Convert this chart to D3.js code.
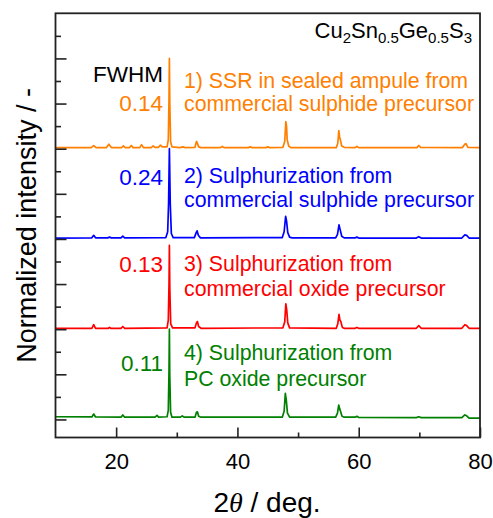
<!DOCTYPE html>
<html>
<head>
<meta charset="utf-8">
<script src="https://cdn.jsdelivr.net/npm/d3@7"></script>
<style>
  body { margin: 0; background: #fff; }
  text { font-family: "Liberation Sans", Arial, sans-serif; }
</style>
</head>
<body>
<svg id="chart" width="493" height="518"></svg>
<script>
// XRD patterns of Cu2Sn0.5Ge0.5S3, each as [2theta (deg), normalized intensity] pairs
const patternSSR = [
  [10, 0.012], [15.9, 0.012], [16.3, 0.035], [16.7, 0.012], [18.4, 0.012], [18.8, 0.05], [19.2, 0.012],
  [20.9, 0.012], [21.2, 0.03], [21.5, 0.012], [22.2, 0.012], [22.5, 0.035], [22.8, 0.012],
  [23.9, 0.012], [24.2, 0.045], [24.5, 0.012], [25.8, 0.012], [26.1, 0.03], [26.4, 0.015],
  [27.0, 0.015], [27.3, 0.04], [27.6, 0.02], [28.4, 0.02], [28.6, 0.1], [28.72, 0.55], [28.78, 1.0],
  [28.85, 0.5], [28.98, 0.08], [29.2, 0.02], [30.5, 0.012], [31.0, 0.02], [31.4, 0.012],
  [33.0, 0.015], [33.25, 0.08], [33.4, 0.06], [33.6, 0.02], [34.0, 0.012], [37.2, 0.012], [37.5, 0.025],
  [37.8, 0.012], [41.8, 0.012], [42.1, 0.02], [42.4, 0.012], [44.7, 0.012], [45.0, 0.02], [45.3, 0.012],
  [47.5, 0.015], [47.8, 0.08], [47.98, 0.30], [48.1, 0.25], [48.2, 0.1], [48.45, 0.03], [48.8, 0.012],
  [56.3, 0.012], [56.55, 0.06], [56.72, 0.2], [56.85, 0.13], [57.0, 0.09], [57.2, 0.03], [57.6, 0.015],
  [59.4, 0.012], [59.7, 0.025], [60.0, 0.012], [69.6, 0.012], [69.9, 0.035], [70.2, 0.015],
  [77.1, 0.012], [77.5, 0.05], [77.7, 0.055], [78.0, 0.015], [80, 0.012]
];
const patternSulphideSulph = [
  [10, 0.01], [16.0, 0.012], [16.3, 0.04], [16.6, 0.012], [18.6, 0.012], [18.9, 0.02], [19.2, 0.012],
  [20.8, 0.012], [21.1, 0.03], [21.4, 0.012], [28.2, 0.015], [28.5, 0.08], [28.65, 0.4], [28.78, 1.0],
  [28.92, 0.4], [29.1, 0.06], [29.4, 0.015], [32.9, 0.015], [33.2, 0.07], [33.35, 0.09], [33.55, 0.04],
  [33.9, 0.012], [47.4, 0.015], [47.7, 0.08], [47.95, 0.25], [48.1, 0.2], [48.3, 0.07], [48.6, 0.02],
  [49.0, 0.012], [56.2, 0.012], [56.5, 0.05], [56.75, 0.155], [56.95, 0.1], [57.2, 0.03], [57.6, 0.012],
  [59.4, 0.012], [59.7, 0.02], [60.0, 0.01], [69.5, 0.01], [69.9, 0.025], [70.3, 0.01],
  [77.0, 0.01], [77.5, 0.045], [77.8, 0.04], [78.2, 0.01], [80, 0.01]
];
const patternOxideSulph = [
  [10, 0.01], [16.0, 0.01], [16.3, 0.05], [16.6, 0.01], [18.7, 0.01], [18.9, 0.02], [19.1, 0.01],
  [20.8, 0.01], [21.1, 0.03], [21.4, 0.01], [28.4, 0.015], [28.6, 0.1], [28.72, 0.5], [28.78, 0.93],
  [28.85, 0.45], [29.0, 0.06], [29.3, 0.015], [33.0, 0.015], [33.25, 0.07], [33.4, 0.085], [33.6, 0.03],
  [34.0, 0.01], [47.5, 0.015], [47.8, 0.08], [47.98, 0.28], [48.12, 0.22], [48.3, 0.07], [48.6, 0.015],
  [56.3, 0.01], [56.55, 0.06], [56.75, 0.165], [56.9, 0.1], [57.05, 0.085], [57.3, 0.02], [57.6, 0.01],
  [59.4, 0.01], [59.7, 0.02], [60.0, 0.01], [69.5, 0.01], [69.9, 0.04], [70.3, 0.01],
  [77.0, 0.01], [77.5, 0.05], [77.8, 0.04], [78.2, 0.01], [80, 0.01]
];
const patternPCOxide = [
  [10, 0.03], [16.0, 0.028], [16.3, 0.06], [16.6, 0.028], [20.8, 0.025], [21.1, 0.05], [21.4, 0.025],
  [26.4, 0.025], [26.75, 0.045], [27.0, 0.025], [28.4, 0.03], [28.6, 0.1], [28.72, 0.55], [28.78, 1.0],
  [28.84, 0.5], [28.98, 0.08], [29.2, 0.025], [30.6, 0.025], [30.9, 0.04], [31.2, 0.025],
  [33.0, 0.025], [33.25, 0.08], [33.4, 0.085], [33.6, 0.035], [34.0, 0.025], [47.4, 0.025], [47.7, 0.09],
  [47.9, 0.29], [48.05, 0.22], [48.25, 0.07], [48.6, 0.025], [56.2, 0.025], [56.5, 0.07], [56.7, 0.16],
  [56.85, 0.12], [57.0, 0.09], [57.25, 0.035], [57.6, 0.025], [59.4, 0.025], [59.7, 0.035], [60.0, 0.022],
  [69.5, 0.02], [69.9, 0.03], [70.3, 0.02], [77.0, 0.02], [77.5, 0.05], [77.8, 0.04], [78.2, 0.015], [80, 0.015]
];

const patterns = [patternSSR, patternSulphideSulph, patternOxideSulph, patternPCOxide];
const verticalOffsets = [3, 2, 1, 0];
const fwhmValues = [0.14, 0.24, 0.13, 0.11];
const sampleLabels = [
  ["1) SSR in sealed ampule from", "commercial sulphide precursor"],
  ["2) Sulphurization from", "commercial sulphide precursor"],
  ["3) Sulphurization from", "commercial oxide precursor"],
  ["4) Sulphurization from", "PC oxide precursor"]
];
const xMajorTicks = [20, 40, 60, 80];
const xMinorTicks = [30, 50, 70];
const yMajorTicks = [0, 0.5, 1, 1.5, 2, 2.5, 3, 3.5, 4];
const yMinorTicks = [0.25, 0.75, 1.25, 1.75, 2.25, 2.75, 3.25, 3.75, 4.25];

// styling / layout
const colors = ["#ff8000", "#0000ff", "#ff0000", "#008000"];
const frame = { left: 55.5, right: 480, top: 13.3, bottom: 437.5 };
// text baselines measured upward (px) from each pattern's zero line
const labelLine1Rise = [61, 56, 58, 59];
const labelLine2Rise = [38, 32, 33, 33];
const valueRise = [38, 54, 57.5, 48];

const svg = d3.select("#chart");
const x = d3.scaleLinear().domain([10, 80]).range([frame.left, frame.right]);
const y = d3.scaleLinear().domain([-0.2, 4.5]).range([frame.bottom, frame.top]);

// traces
const line = d3.line().x(d => x(d[0])).y(d => y(d[1]));
patterns.forEach((p, i) => {
  svg.append("path")
    .datum(p.map(d => [d[0], d[1] + verticalOffsets[i]]))
    .attr("d", line)
    .attr("fill", "none")
    .attr("stroke", colors[i])
    .attr("stroke-width", 1.7)
    .attr("stroke-linejoin", "round");
});

// axes with inward ticks
const axisColor = "#222";
const gx = svg.append("g").attr("transform", `translate(0,${frame.bottom})`)
  .call(d3.axisBottom(x).tickValues(xMajorTicks).tickSize(-10).tickPadding(16).tickFormat(d3.format("d")));
const gxm = svg.append("g").attr("transform", `translate(0,${frame.bottom})`)
  .call(d3.axisBottom(x).tickValues(xMinorTicks).tickSize(-5).tickFormat(""));
const gy = svg.append("g").attr("transform", `translate(${frame.left},0)`)
  .call(d3.axisLeft(y).tickValues(yMajorTicks).tickSize(-11).tickFormat(""));
const gym = svg.append("g").attr("transform", `translate(${frame.left},0)`)
  .call(d3.axisLeft(y).tickValues(yMinorTicks).tickSize(-5.5).tickFormat(""));
[gx, gxm, gy, gym].forEach(g => {
  g.select(".domain").remove();
  g.selectAll(".tick line").attr("stroke", axisColor).attr("stroke-width", 1.6);
});
gx.selectAll(".tick text").attr("font-size", 22).attr("fill", "#000")
  .attr("font-family", "'Liberation Sans', Arial, sans-serif");

svg.append("rect")
  .attr("x", frame.left).attr("y", frame.top)
  .attr("width", frame.right - frame.left).attr("height", frame.bottom - frame.top)
  .attr("fill", "none").attr("stroke", axisColor).attr("stroke-width", 1.8);

// axis titles
const xt = svg.append("text").attr("x", 267).attr("y", 512).attr("text-anchor", "middle").attr("font-size", 28);
xt.append("tspan").text("2");
xt.append("tspan").attr("font-family", "'Liberation Serif', serif").attr("font-style", "italic").text("θ");
xt.append("tspan").text(" / deg.");

svg.append("text")
  .attr("transform", `translate(36,${(frame.top + frame.bottom) / 2}) rotate(-90)`)
  .attr("text-anchor", "middle").attr("font-size", 27)
  .text("Normalized intensity / -");

// compound formula
const ft = svg.append("text").attr("x", 472).attr("y", 38).attr("text-anchor", "end").attr("font-size", 22);
[["Cu", false], ["2", true], ["Sn", false], ["0.5", true], ["Ge", false], ["0.5", true], ["S", false], ["3", true]]
  .forEach(([t, sub], k, arr) => {
    const prevSub = k > 0 && arr[k - 1][1];
    const ts = ft.append("tspan").text(t);
    if (sub) ts.attr("font-size", 15).attr("dy", 5);
    else if (prevSub) ts.attr("dy", -5);
  });

// FWHM header and per-pattern annotations
const valueX = 163, labelX = 184;
svg.append("text").attr("x", valueX).attr("y", y(3) - 67).attr("text-anchor", "end")
  .attr("font-size", 22.5).attr("fill", "#000").text("FWHM");
patterns.forEach((p, i) => {
  const base = y(verticalOffsets[i]);
  svg.append("text").attr("x", valueX).attr("y", base - valueRise[i]).attr("text-anchor", "end")
    .attr("font-size", 22.5).attr("fill", colors[i]).text(fwhmValues[i].toFixed(2));
  svg.append("text").attr("x", labelX).attr("y", base - labelLine1Rise[i])
    .attr("font-size", 21.3).attr("fill", colors[i]).text(sampleLabels[i][0]);
  svg.append("text").attr("x", labelX).attr("y", base - labelLine2Rise[i])
    .attr("font-size", 21.3).attr("fill", colors[i]).text(sampleLabels[i][1]);
});
</script>
</body>
</html>
